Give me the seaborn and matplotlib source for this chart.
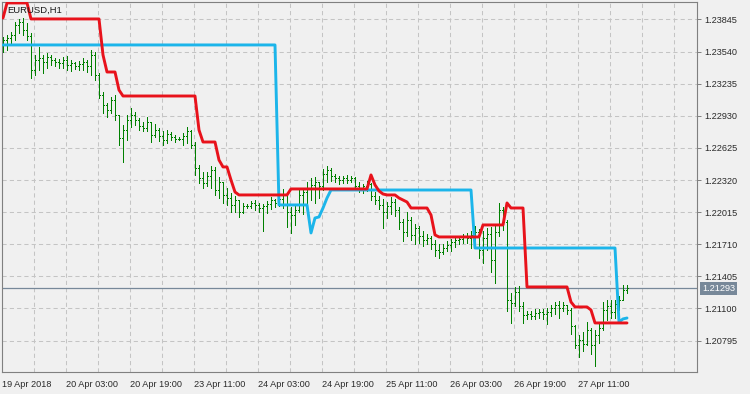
import matplotlib
matplotlib.use("Agg")
import matplotlib.pyplot as plt
import matplotlib.transforms as mtransforms
import numpy as np
import pandas as pd
import seaborn as sns

# ---------------- data ----------------
symbol_title = "EURUSD,H1"

time_labels = ["19 Apr 2018", "20 Apr 03:00", "20 Apr 19:00", "23 Apr 11:00", "24 Apr 03:00",
               "24 Apr 19:00", "25 Apr 11:00", "26 Apr 03:00", "26 Apr 19:00", "27 Apr 11:00"]
label_bars = [0, 16, 32, 48, 64, 80, 96, 112, 128, 144]

price_ticks = [1.23845, 1.23540, 1.23235, 1.22930, 1.22625, 1.22320,
               1.22015, 1.21710, 1.21405, 1.21100, 1.20795]
last_price = 1.21293

opens = [
    1.23603, 1.23650, 1.23669, 1.23698, 1.23793, 1.23821, 1.23745, 1.23688, 1.23365, 1.23460,
    1.23479, 1.23441, 1.23489, 1.23460, 1.23441, 1.23432, 1.23460, 1.23413, 1.23432, 1.23403,
    1.23422, 1.23441, 1.23403, 1.23508, 1.23318, 1.23128, 1.23033, 1.22985, 1.23080, 1.22938,
    1.22719, 1.22795, 1.22890, 1.22938, 1.22890, 1.22833, 1.22814, 1.22871, 1.22748, 1.22795,
    1.22738, 1.22700, 1.22757, 1.22729, 1.22710, 1.22710, 1.22738, 1.22786, 1.22653, 1.22434,
    1.22339, 1.22292, 1.22358, 1.22415, 1.22225, 1.22301, 1.22178, 1.22149, 1.22083, 1.22130,
    1.22016, 1.22073, 1.22073, 1.22102, 1.22083, 1.22054, 1.22073, 1.22092, 1.22130, 1.22102,
    1.22140, 1.22187, 1.22016, 1.21988, 1.22035, 1.22178, 1.22206, 1.22244, 1.22273, 1.22301,
    1.22263, 1.22377, 1.22415, 1.22358, 1.22339, 1.22320, 1.22339, 1.22320, 1.22339, 1.22263,
    1.22244, 1.22263, 1.22282, 1.22168, 1.22130, 1.22083, 1.22016, 1.22073, 1.22111, 1.22035,
    1.21921, 1.21826, 1.21940, 1.21798, 1.21864, 1.21788, 1.21750, 1.21769, 1.21712, 1.21655,
    1.21636, 1.21674, 1.21703, 1.21731, 1.21750, 1.21760, 1.21779, 1.21769, 1.21798, 1.21826,
    1.21655, 1.21769, 1.21807, 1.21560, 1.21826, 1.22035, 1.21921, 1.21180, 1.21152, 1.21256,
    1.21123, 1.21038, 1.21047, 1.21028, 1.21057, 1.21066, 1.21047, 1.21066, 1.21104, 1.21133,
    1.21104, 1.21133, 1.21085, 1.20933, 1.20753, 1.20800, 1.20762, 1.20895, 1.20753, 1.20848,
    1.20914, 1.21085, 1.21123, 1.21066, 1.21142, 1.21180, 1.21275]

highs = [
    1.23679, 1.23698, 1.23726, 1.23821, 1.23850, 1.23859, 1.23812, 1.23717, 1.23508, 1.23584,
    1.23508, 1.23527, 1.23508, 1.23479, 1.23470, 1.23489, 1.23498, 1.23460, 1.23441, 1.23451,
    1.23479, 1.23460, 1.23555, 1.23536, 1.23337, 1.23156, 1.23052, 1.23109, 1.23128, 1.22938,
    1.22843, 1.22938, 1.23004, 1.22966, 1.22909, 1.22871, 1.22919, 1.22871, 1.22852, 1.22814,
    1.22786, 1.22795, 1.22776, 1.22748, 1.22729, 1.22767, 1.22824, 1.22795, 1.22681, 1.22463,
    1.22396, 1.22396, 1.22453, 1.22444, 1.22349, 1.22301, 1.22244, 1.22197, 1.22168, 1.22130,
    1.22102, 1.22092, 1.22121, 1.22130, 1.22102, 1.22092, 1.22121, 1.22159, 1.22140, 1.22168,
    1.22235, 1.22197, 1.22064, 1.22073, 1.22235, 1.22244, 1.22301, 1.22339, 1.22349, 1.22301,
    1.22425, 1.22453, 1.22434, 1.22377, 1.22358, 1.22358, 1.22368, 1.22358, 1.22349, 1.22301,
    1.22282, 1.22311, 1.22292, 1.22206, 1.22168, 1.22140, 1.22111, 1.22159, 1.22140, 1.22064,
    1.21950, 1.22016, 1.21969, 1.21902, 1.21883, 1.21836, 1.21807, 1.21788, 1.21750, 1.21712,
    1.21712, 1.21741, 1.21760, 1.21779, 1.21788, 1.21807, 1.21817, 1.21836, 1.21883, 1.21855,
    1.21836, 1.21864, 1.21874, 1.21883, 1.22102, 1.22064, 1.21940, 1.21247, 1.21304, 1.21313,
    1.21161, 1.21076, 1.21076, 1.21095, 1.21095, 1.21095, 1.21104, 1.21133, 1.21161, 1.21171,
    1.21161, 1.21133, 1.21104, 1.20943, 1.20848, 1.20876, 1.20971, 1.20914, 1.20895, 1.20952,
    1.21161, 1.21180, 1.21180, 1.21180, 1.21218, 1.21323, 1.21323]

lows = [
    1.23536, 1.23555, 1.23603, 1.23650, 1.23717, 1.23698, 1.23650, 1.23289, 1.23318, 1.23365,
    1.23337, 1.23384, 1.23413, 1.23403, 1.23384, 1.23384, 1.23365, 1.23356, 1.23375, 1.23365,
    1.23365, 1.23346, 1.23318, 1.23270, 1.23099, 1.22957, 1.22919, 1.22957, 1.22890, 1.22653,
    1.22491, 1.22700, 1.22824, 1.22843, 1.22795, 1.22786, 1.22786, 1.22681, 1.22729, 1.22691,
    1.22653, 1.22672, 1.22700, 1.22681, 1.22700, 1.22653, 1.22672, 1.22624, 1.22368, 1.22292,
    1.22244, 1.22263, 1.22244, 1.22178, 1.22149, 1.22102, 1.22083, 1.22016, 1.22016, 1.21969,
    1.22007, 1.22054, 1.22054, 1.22035, 1.22016, 1.21836, 1.22007, 1.22045, 1.22064, 1.22073,
    1.22054, 1.21874, 1.21817, 1.21893, 1.22016, 1.21997, 1.22073, 1.22130, 1.22102, 1.22149,
    1.22225, 1.22301, 1.22311, 1.22301, 1.22282, 1.22292, 1.22292, 1.22301, 1.22235, 1.22206,
    1.22197, 1.22216, 1.22130, 1.22092, 1.22045, 1.21864, 1.21959, 1.21997, 1.21978, 1.21855,
    1.21741, 1.21788, 1.21750, 1.21712, 1.21722, 1.21693, 1.21712, 1.21665, 1.21598, 1.21579,
    1.21617, 1.21646, 1.21646, 1.21684, 1.21712, 1.21722, 1.21722, 1.21674, 1.21693, 1.21579,
    1.21532, 1.21655, 1.21446, 1.21342, 1.21788, 1.21845, 1.21076, 1.20962, 1.21123, 1.21076,
    1.20962, 1.21000, 1.21000, 1.21000, 1.21009, 1.21000, 1.20952, 1.21028, 1.21047, 1.21009,
    1.21076, 1.21047, 1.20857, 1.20724, 1.20639, 1.20696, 1.20753, 1.20667, 1.20553, 1.20772,
    1.20895, 1.20990, 1.21009, 1.21009, 1.21085, 1.21180, 1.21247]

closes = [
    1.23650, 1.23669, 1.23698, 1.23793, 1.23821, 1.23745, 1.23688, 1.23365, 1.23460, 1.23479,
    1.23441, 1.23489, 1.23460, 1.23441, 1.23432, 1.23460, 1.23413, 1.23432, 1.23403, 1.23422,
    1.23441, 1.23403, 1.23508, 1.23318, 1.23128, 1.23033, 1.22985, 1.23080, 1.22938, 1.22719,
    1.22795, 1.22890, 1.22938, 1.22890, 1.22833, 1.22814, 1.22871, 1.22748, 1.22795, 1.22738,
    1.22700, 1.22757, 1.22729, 1.22710, 1.22710, 1.22738, 1.22786, 1.22653, 1.22434, 1.22339,
    1.22292, 1.22358, 1.22415, 1.22225, 1.22301, 1.22178, 1.22149, 1.22083, 1.22130, 1.22016,
    1.22073, 1.22073, 1.22102, 1.22083, 1.22054, 1.22073, 1.22092, 1.22130, 1.22102, 1.22140,
    1.22187, 1.22016, 1.21988, 1.22035, 1.22178, 1.22206, 1.22244, 1.22273, 1.22301, 1.22263,
    1.22377, 1.22415, 1.22358, 1.22339, 1.22320, 1.22339, 1.22320, 1.22339, 1.22263, 1.22244,
    1.22263, 1.22282, 1.22168, 1.22130, 1.22083, 1.22016, 1.22073, 1.22111, 1.22035, 1.21921,
    1.21826, 1.21940, 1.21798, 1.21864, 1.21788, 1.21750, 1.21769, 1.21712, 1.21655, 1.21636,
    1.21674, 1.21703, 1.21731, 1.21750, 1.21760, 1.21779, 1.21769, 1.21798, 1.21826, 1.21655,
    1.21769, 1.21807, 1.21560, 1.21826, 1.22035, 1.21921, 1.21180, 1.21152, 1.21256, 1.21123,
    1.21038, 1.21047, 1.21028, 1.21057, 1.21066, 1.21047, 1.21066, 1.21104, 1.21133, 1.21104,
    1.21133, 1.21085, 1.20933, 1.20753, 1.20800, 1.20762, 1.20895, 1.20753, 1.20848, 1.20914,
    1.21085, 1.21123, 1.21066, 1.21142, 1.21180, 1.21275, 1.21293]

red_line = [
    1.23859, 1.24002, 1.24002, 1.24002, 1.24002, 1.24002, 1.24002, 1.23850, 1.23850, 1.23850,
    1.23850, 1.23850, 1.23850, 1.23850, 1.23850, 1.23850, 1.23850, 1.23850, 1.23850, 1.23850,
    1.23850, 1.23850, 1.23850, 1.23850, 1.23850, 1.23508, 1.23346, 1.23346, 1.23346, 1.23175,
    1.23118, 1.23118, 1.23118, 1.23118, 1.23118, 1.23118, 1.23118, 1.23118, 1.23118, 1.23118,
    1.23118, 1.23118, 1.23118, 1.23118, 1.23118, 1.23118, 1.23118, 1.23118, 1.23118, 1.22795,
    1.22681, 1.22681, 1.22681, 1.22681, 1.22510, 1.22444, 1.22444, 1.22320, 1.22206, 1.22178,
    1.22178, 1.22178, 1.22178, 1.22178, 1.22178, 1.22178, 1.22178, 1.22178, 1.22178, 1.22178,
    1.22178, 1.22178, 1.22235, 1.22235, 1.22235, 1.22235, 1.22235, 1.22235, 1.22235, 1.22235,
    1.22235, 1.22235, 1.22235, 1.22235, 1.22235, 1.22235, 1.22235, 1.22235, 1.22235, 1.22235,
    1.22235, 1.22235, 1.22368, 1.22273, 1.22216, 1.22187, 1.22178, 1.22178, 1.22178, 1.22149,
    1.22130, 1.22111, 1.22054, 1.22054, 1.22054, 1.22054, 1.22054, 1.21988, 1.21798, 1.21779,
    1.21779, 1.21779, 1.21779, 1.21779, 1.21779, 1.21779, 1.21779, 1.21779, 1.21779, 1.21779,
    1.21893, 1.21893, 1.21893, 1.21893, 1.21893, 1.21893, 1.22102, 1.22054, 1.22054, 1.22054,
    1.22054, 1.21304, 1.21304, 1.21304, 1.21304, 1.21304, 1.21304, 1.21304, 1.21304, 1.21304,
    1.21304, 1.21304, 1.21161, 1.21114, 1.21114, 1.21114, 1.21114, 1.21085, 1.20962, 1.20962,
    1.20962, 1.20962, 1.20962, 1.20962, 1.20962, 1.20962, 1.20962]

cyan_line = [
    1.23603, 1.23603, 1.23603, 1.23603, 1.23603, 1.23603, 1.23603, 1.23603, 1.23603, 1.23603,
    1.23603, 1.23603, 1.23603, 1.23603, 1.23603, 1.23603, 1.23603, 1.23603, 1.23603, 1.23603,
    1.23603, 1.23603, 1.23603, 1.23603, 1.23603, 1.23603, 1.23603, 1.23603, 1.23603, 1.23603,
    1.23603, 1.23603, 1.23603, 1.23603, 1.23603, 1.23603, 1.23603, 1.23603, 1.23603, 1.23603,
    1.23603, 1.23603, 1.23603, 1.23603, 1.23603, 1.23603, 1.23603, 1.23603, 1.23603, 1.23603,
    1.23603, 1.23603, 1.23603, 1.23603, 1.23603, 1.23603, 1.23603, 1.23603, 1.23603, 1.23603,
    1.23603, 1.23603, 1.23603, 1.23603, 1.23603, 1.23603, 1.23603, 1.23603, 1.23603, 1.22083,
    1.22083, 1.22083, 1.22083, 1.22083, 1.22083, 1.22083, 1.22083, 1.21817, 1.21959, 1.21969,
    1.22054, 1.22149, 1.22225, 1.22225, 1.22225, 1.22225, 1.22225, 1.22225, 1.22225, 1.22225,
    1.22225, 1.22225, 1.22225, 1.22225, 1.22225, 1.22225, 1.22225, 1.22225, 1.22225, 1.22225,
    1.22225, 1.22225, 1.22225, 1.22225, 1.22225, 1.22225, 1.22225, 1.22225, 1.22225, 1.22225,
    1.22225, 1.22225, 1.22225, 1.22225, 1.22225, 1.22225, 1.22225, 1.22225, 1.21674, 1.21674,
    1.21674, 1.21674, 1.21674, 1.21674, 1.21674, 1.21674, 1.21674, 1.21674, 1.21674, 1.21674,
    1.21674, 1.21674, 1.21674, 1.21674, 1.21674, 1.21674, 1.21674, 1.21674, 1.21674, 1.21674,
    1.21674, 1.21674, 1.21674, 1.21674, 1.21674, 1.21674, 1.21674, 1.21674, 1.21674, 1.21674,
    1.21674, 1.21674, 1.21674, 1.21674, 1.20971, 1.21000, 1.21009]

# ---------------- styling ----------------
BG = "#f0f0f0"
GRID = "#c4c4c4"
FRAME = "#808080"
BAR_COLOR = "#008000"
RED = "#e8121b"
CYAN = "#1cb5ea"
LAST_COLOR = "#778899"
TEXT = "#2a2a2a"

sns.set_style("white")
plt.rcParams["font.family"] = ["Liberation Sans", "DejaVu Sans"]

fig = plt.figure(figsize=(7.5, 3.94), dpi=100, facecolor=BG)
ax = fig.add_axes([2 / 750, 22 / 394, 695 / 750, 370 / 394])
ax.set_facecolor(BG)

n = len(closes)
bar_idx = np.arange(n)
df = pd.DataFrame({"bar": bar_idx, "open": opens, "high": highs, "low": lows,
                   "close": closes, "red": red_line, "cyan": cyan_line})

ax.set_xlim(-0.25, 173.5)
ax.set_ylim(1.20496, 1.24011)

# grid
grid_x = np.arange(8, 176, 8) - 0.25
for gx in grid_x:
    ax.axvline(gx, color=GRID, lw=0.75, ls=(0, (4, 3)), zorder=0)
for gy in price_ticks:
    ax.axhline(gy, color=GRID, lw=0.75, ls=(0, (4, 3)), zorder=0)

# last price line
ax.axhline(last_price, color=LAST_COLOR, lw=0.9, zorder=1)

# OHLC bars (crisp 1 px)
bar_kw = dict(color=BAR_COLOR, lw=0.7, antialiased=False, zorder=3)
ax.vlines(df["bar"], df["low"], df["high"], **bar_kw)
ax.hlines(df["open"], df["bar"] - 0.3, df["bar"], **bar_kw)
ax.hlines(df["close"], df["bar"], df["bar"] + 0.3, **bar_kw)

# indicator lines
sns.lineplot(data=df, x="bar", y="cyan", color=CYAN, lw=2.1, ax=ax, zorder=4)
sns.lineplot(data=df, x="bar", y="red", color=RED, lw=2.1, ax=ax, zorder=5)

# axes / ticks
for s in ax.spines.values():
    s.set_color(FRAME)
    s.set_linewidth(0.8)

ax.yaxis.tick_right()
ax.set_yticks(price_ticks)
ax.set_yticklabels([f"{v:.5f}" for v in price_ticks])
ax.tick_params(axis="y", which="major", direction="out", length=3, width=0.7,
               color=FRAME, labelsize=6.6, labelcolor=TEXT, pad=2.5, right=True, left=False)

major_x = np.array(label_bars) - 0.25
minor_x = np.array(label_bars) + 8 - 0.25
ax.set_xticks(major_x)
ax.set_xticks(minor_x, minor=True)
ax.set_xticklabels(time_labels, ha="left")
ax.tick_params(axis="x", which="major", direction="out", length=4.5, width=0.7,
               color=FRAME, labelsize=6.6, labelcolor=TEXT, pad=1.5)
ax.tick_params(axis="x", which="minor", direction="out", length=2.5, width=0.7, color=FRAME)
ax.set_xlabel("")
ax.set_ylabel("")

# title
ax.text(0.007, 0.978, symbol_title, transform=ax.transAxes, ha="left", va="center",
        fontsize=6.8, color="#1a1a1a", zorder=6)

# last price label box
trans = mtransforms.blended_transform_factory(ax.transAxes, ax.transData)
ax.text(1.0 + 5 / 695, last_price, f"{last_price:.5f}", transform=trans,
        ha="left", va="center", color="white", fontsize=6.6, clip_on=False, zorder=10,
        bbox=dict(boxstyle="square,pad=0.22", fc=LAST_COLOR, ec="none"))

fig.savefig("out.png", dpi=100, facecolor=BG)
